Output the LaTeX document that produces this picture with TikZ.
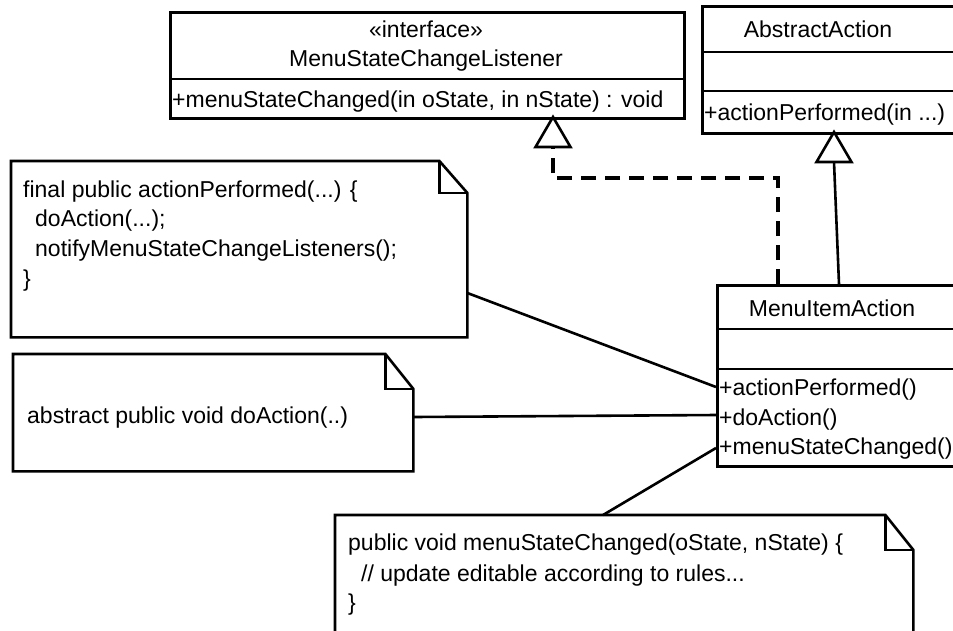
\documentclass[tikz,border=0pt]{standalone}
\usepackage{fontspec}
\setmainfont{Liberation Sans}
\begin{document}
\begin{tikzpicture}[x=1pt,y=-1pt,
  ln/.style={line width=2.6pt, line join=miter},
  dashln/.style={line width=4pt, dash pattern=on 15pt off 9pt},
  umlbox/.style={draw, line width=2.6pt, inner sep=0pt, anchor=north west},
  noteframe/.style={inner sep=0pt, anchor=north west},
  txt/.style={inner sep=0pt, font=\fontsize{23}{29}\selectfont}]
\useasboundingbox (0,0) rectangle (953,630);
\clip (0,0) rectangle (953,630);

% ---------- interface box ----------
\node[umlbox, minimum width=514pt, minimum height=106pt] (iface) at (169,11) {};
\draw[ln] ([yshift=-68pt]iface.north west) -- ([yshift=-68pt]iface.north east);
\node[txt, anchor=base] (ifst) at (426,37) {«interface»};
\node[txt, anchor=base] (ifname) at (426,66) {MenuStateChangeListener};
\node[txt, anchor=base west] (ifop) at (172,107) {+menuStateChanged(in oState, in nState) : void};

% ---------- AbstractAction ----------
\node[umlbox, minimum width=280pt, minimum height=127pt] (aa) at (701,5) {};
\draw[ln] ([yshift=-47pt]aa.north west) -- ([yshift=-47pt]aa.north east);
\draw[ln] ([yshift=-86pt]aa.north west) -- ([yshift=-86pt]aa.north east);
\node[txt, anchor=base] (aaname) at (818,37) {AbstractAction};
\node[txt, anchor=base west] (aaop) at (704,120) {+actionPerformed(in ...)};

% ---------- MenuItemAction ----------
\node[umlbox, minimum width=270pt, minimum height=181pt] (mia) at (716,284) {};
\draw[ln] ([yshift=-45pt]mia.north west) -- ([yshift=-45pt]mia.north east);
\draw[ln] ([yshift=-85pt]mia.north west) -- ([yshift=-85pt]mia.north east);
\node[txt, anchor=base] (mianame) at (832,316) {MenuItemAction};
\node[txt, anchor=base west] (miaop1) at (719,395) {+actionPerformed()};
\node[txt, anchor=base west] (miaop2) at (719,425) {+doAction()};
\node[txt, anchor=base west] (miaop3) at (719,454) {+menuStateChanged()};

% ---------- notes ----------
\node[noteframe, minimum width=456pt, minimum height=176pt] (n1) at (11,161) {};
\draw[ln] (n1.north west) -- ([xshift=-28pt]n1.north east) -- ([yshift=-32pt]n1.north east)
  -- (n1.south east) -- (n1.south west) -- cycle;
\draw[ln] ([xshift=-28pt]n1.north east) |- ([yshift=-32pt]n1.north east);
\node[txt, anchor=base west] (n1l1) at (23,197) {final public actionPerformed(...) \{};
\node[txt, anchor=base west] (n1l2) at (35,226) {doAction(...);};
\node[txt, anchor=base west] (n1l3) at (35,256) {notifyMenuStateChangeListeners();};
\node[txt, anchor=base west] (n1l4) at (23,286) {\}};

\node[noteframe, minimum width=400pt, minimum height=117pt] (n2) at (13,354) {};
\draw[ln] (n2.north west) -- ([xshift=-28pt]n2.north east) -- ([yshift=-35pt]n2.north east)
  -- (n2.south east) -- (n2.south west) -- cycle;
\draw[ln] ([xshift=-28pt]n2.north east) |- ([yshift=-35pt]n2.north east);
\node[txt, anchor=base west] (n2l1) at (27,423) {abstract public void doAction(..)};

\node[noteframe, minimum width=578pt, minimum height=140pt] (n3) at (335,515) {};
\draw[ln] (n3.north west) -- ([xshift=-28pt]n3.north east) -- ([yshift=-35pt]n3.north east)
  -- (n3.south east) -- (n3.south west) -- cycle;
\draw[ln] ([xshift=-28pt]n3.north east) |- ([yshift=-35pt]n3.north east);
\node[txt, anchor=base west] (n3l1) at (348,550) {public void menuStateChanged(oState, nState) \{};
\node[txt, anchor=base west] (n3l2) at (361,581) {// update editable according to rules...};
\node[txt, anchor=base west] (n3l3) at (348,610) {\}};

% ---------- note connectors ----------
\draw[ln] ([yshift=-132pt]n1.north east) -- ([yshift=-103pt]mia.north west);
\draw[ln] ([yshift=-63pt]n2.north east) -- ([yshift=-131pt]mia.north west);
\draw[ln] ([xshift=268pt]n3.north west) -- ([yshift=-164pt]mia.north west);

% ---------- realization (dashed) ----------
\coordinate (t1) at (553,117);
\coordinate (t1b) at (553,147);
\coordinate (bend) at (778,178);
\draw[dashln] ([xshift=62pt]mia.north west) -- (bend) -| (t1b);
\draw[ln, fill=white] (t1) -- ++(-17.5,30) -- ++(35,0) -- cycle;

% ---------- generalization ----------
\coordinate (t2) at (834,132);
\coordinate (t2b) at (834,162);
\draw[ln] ([xshift=123pt]mia.north west) -- (t2b);
\draw[ln, fill=white] (t2) -- ++(-17.5,30) -- ++(35,0) -- cycle;
\end{tikzpicture}
\end{document}
